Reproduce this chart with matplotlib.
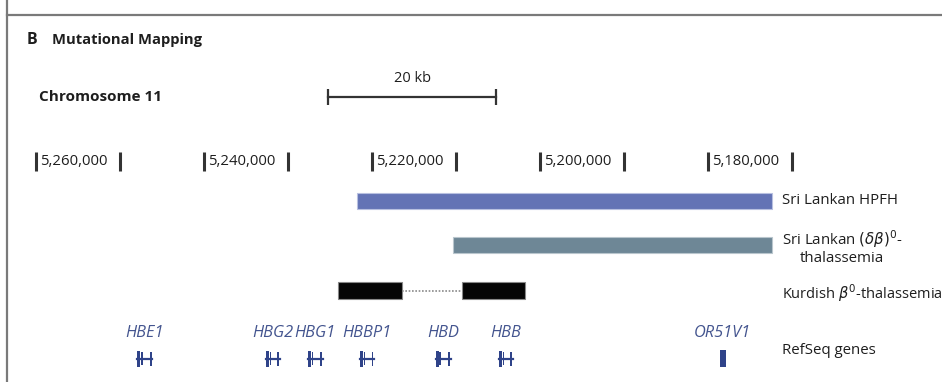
import numpy as np
import matplotlib.pyplot as plt
from matplotlib.transforms import blended_transform_factory

plt.rcParams['font.family'] = ['Open Sans', 'DejaVu Sans']
plt.rcParams['mathtext.fontset'] = 'dejavusans'

# Chromosome 11 coordinates (bp)
major_ticks = [5260000, 5240000, 5220000, 5200000, 5180000]
minor_ticks = [5250000, 5230000, 5210000, 5190000, 5170000]

# Deletions: (start, end) pairs, high -> low coordinate
hpfh = [(5221800, 5172400)]
db_thal = [(5210400, 5172400)]
kurdish = [(5224050, 5216430), (5209290, 5201790)]

# RefSeq genes (start, end)
gene_names = ['HBE1', 'HBG2', 'HBG1', 'HBBP1', 'HBD', 'HBB', 'OR51V1']
gene_start = [5247950, 5232590, 5227660, 5221400, 5212430, 5204880, 5178600]
gene_end = [5246160, 5231000, 5225890, 5219760, 5210640, 5203270, 5177900]

scale_start = 5225200
scale_len = 20000

# colours
c_hpfh = '#6373b5'
c_db = '#6e8796'
c_gene = '#2f4389'
c_gene_lbl = '#44558f'
c_txt = '#1e1e1e'

fig = plt.figure(figsize=(9.42, 3.82), dpi=100)
ax = fig.add_axes([0, 0, 1, 1])
ax.set_xlim(5264286, 5152143)   # reversed, 8.4 px per kb
ax.set_ylim(382, 0)
ax.axis('off')
tr = blended_transform_factory(ax.transAxes, ax.transData)

# panel frame
ax.plot([7/942, 1], [15, 15], transform=tr, color='#7a7a7a', lw=1.6)
ax.plot([7/942, 7/942], [0, 382], transform=tr, color='#7a7a7a', lw=1.6)

ax.text(27/942, 40, 'B', transform=tr, fontsize=11.5, fontweight='bold',
        color=c_txt, va='center')
ax.text(52/942, 40, 'Mutational Mapping', transform=tr, fontsize=10.6,
        fontweight='bold', color=c_txt, va='center')
ax.text(39/942, 97, 'Chromosome 11', transform=tr, fontsize=11,
        fontweight='bold', color=c_txt, va='center')

# 20 kb scale bar
ax.plot([scale_start, scale_start - scale_len], [97, 97], color='#333333', lw=1.6)
ax.vlines([scale_start, scale_start - scale_len], 89, 105, color='#333333', lw=1.6)
ax.text(scale_start - scale_len / 2, 79, '20 kb', ha='center', va='center',
        fontsize=10.5, color=c_txt)

# coordinate ruler
ax.vlines(major_ticks + minor_ticks, 152, 171, color='#333333', lw=2.2)
for p in major_ticks:
    ax.text(p - 450, 161.5, f'{p:,}', ha='left', va='center', fontsize=10.7,
            color=c_txt)

# deletion tracks
def draw_bars(segs, y, h, color, edge):
    for s, e in segs:
        ax.add_patch(plt.Rectangle((e, y - h / 2), s - e, h, facecolor=color,
                                   edgecolor=edge, lw=0.8))

draw_bars(hpfh, 200.5, 16, c_hpfh, '#b8c0e0')
draw_bars(db_thal, 245, 16, c_db, '#b9c6cd')
draw_bars(kurdish, 290.5, 17, '#050505', '#888888')
ax.plot([kurdish[0][1], kurdish[1][0]], [290.5, 290.5], color='#8a8a8a',
        lw=1.2, ls=(0, (1, 1)))

lx = 782/942
ax.text(lx, 201, 'Sri Lankan HPFH', transform=tr, fontsize=10.8, color=c_txt,
        va='center')
ax.text(lx, 247.5, 'Sri Lankan $(\\delta\\beta)^0$-\nthalassemia', transform=tr,
        fontsize=10.8, color=c_txt, va='center', multialignment='center',
        linespacing=1.1)
ax.text(lx, 293, 'Kurdish $\\beta^0$-thalassemia', transform=tr, fontsize=10.5,
        color=c_txt, va='center')
ax.text(lx, 350, 'RefSeq genes', transform=tr, fontsize=10.8, color=c_txt,
        va='center')

# gene models: 5' end at the left (minus strand)
gy = 358.5
for name, s, e in zip(gene_names, gene_start, gene_end):
    L = s - e
    ax.text((s + e) / 2, 333, name, ha='center', va='center', fontsize=11.8,
            style='italic', color=c_gene_lbl)
    if name.startswith('OR'):
        ax.add_patch(plt.Rectangle((e, gy - 8.5), L, 17, color=c_gene, lw=0))
        continue
    ax.plot([s, e], [gy, gy], color=c_gene, lw=1.6)
    for a, b, h in [(0.0, 0.2, 16), (0.26, 0.38, 13), (0.82, 0.96, 14)]:
        ax.add_patch(plt.Rectangle((s - b * L, gy - h / 2), (b - a) * L, h,
                                   color=c_gene, lw=0))

fig.savefig('out.png', dpi=100)
